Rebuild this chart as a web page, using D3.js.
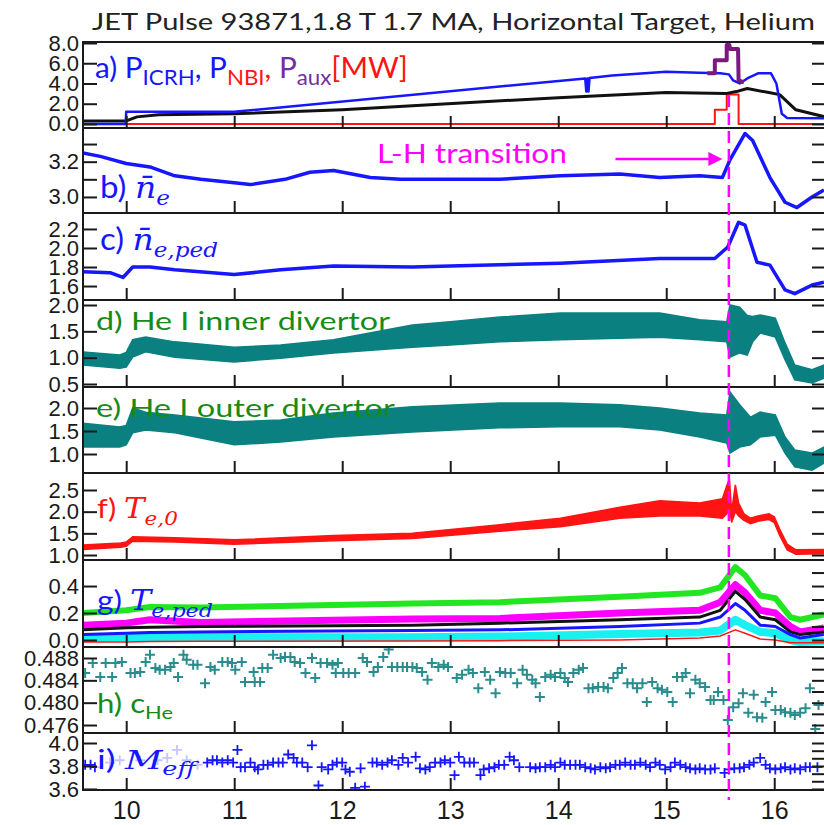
<!DOCTYPE html>
<html>
<head>
<meta charset="utf-8">
<script src="https://cdn.jsdelivr.net/npm/d3@7"></script>
<style>
  body { margin: 0; background: #fff; }
  text { white-space: pre; }
</style>
</head>
<body>
<div id="chart"></div>
<script>
// ---------- data ----------
const xTicks = [10, 11, 12, 13, 14, 15, 16]
const tLH = 15.58

// a) heating powers [MW]
const tIcrh = [9.6, 9.995, 10.0, 11.0, 14.25, 14.26, 14.27, 14.28, 14.29, 14.5, 14.8, 15.0, 15.3, 15.5, 15.58, 15.62, 15.68, 15.75, 15.85, 15.97, 16.02, 16.07, 16.12, 16.47]
const pIcrh = [0, 0, 1.2, 1.2, 4.5, 3.2, 4.5, 3.2, 4.55, 4.8, 5.0, 5.15, 5.05, 5.0, 4.9, 4.3, 4.0, 4.5, 5.0, 5.0, 4.0, 1.0, 0.6, 0.55]
const tBlack = [9.6, 10.0, 10.1, 10.3, 11.0, 12.0, 12.65, 14.0, 15.0, 15.55, 15.65, 15.75, 15.95, 16.05, 16.2, 16.47]
const pBlack = [0.3, 0.3, 0.7, 0.9, 1.0, 1.4, 1.8, 2.6, 3.1, 3.0, 3.2, 3.5, 3.1, 2.9, 1.4, 0.7]
const tNbi = [9.6, 15.45, 15.45, 15.56, 15.56, 15.67, 15.67, 16.47]
const pNbi = [0, 0, 1.4, 1.4, 2.9, 2.9, 0, 0]
const tAux = [15.38, 15.45, 15.45, 15.56, 15.56, 15.585, 15.59, 15.665, 15.67, 15.72]
const pAux = [5.0, 5.0, 6.3, 6.3, 7.8, 7.8, 7.4, 7.4, 4.3, 4.1]
const ticksA = [0, 2, 4, 6, 8]

// b) line averaged density
const tNe = [9.60, 9.76, 10.0, 10.22, 10.45, 10.69, 11.0, 11.15, 11.47, 11.70, 11.92, 12.26, 12.54, 13.46, 14.02, 14.57, 14.94, 15.31, 15.52, 15.59, 15.73, 15.80, 15.96, 16.10, 16.21, 16.35, 16.46]
const ne = [3.25, 3.23, 3.19, 3.17, 3.12, 3.10, 3.08, 3.07, 3.10, 3.14, 3.15, 3.11, 3.10, 3.10, 3.12, 3.13, 3.11, 3.12, 3.11, 3.21, 3.36, 3.32, 3.11, 2.97, 2.94, 3.00, 3.04]
const ticksB = [3.0, 3.1, 3.2, 3.3]
const labelsB = [3.0, 3.2]

// c) pedestal density
const tNped = [9.60, 9.85, 9.97, 10.06, 10.22, 10.45, 11.0, 11.43, 11.92, 12.65, 13.0, 14.02, 14.94, 15.45, 15.57, 15.67, 15.73, 15.84, 15.96, 16.10, 16.19, 16.35, 16.46]
const nPed = [1.75, 1.74, 1.69, 1.80, 1.80, 1.77, 1.72, 1.77, 1.81, 1.80, 1.81, 1.84, 1.89, 1.89, 2.01, 2.27, 2.24, 1.85, 1.82, 1.56, 1.52, 1.61, 1.64]
const ticksC = [1.6, 1.8, 2.0, 2.2]

// d) He I inner divertor (noise envelope)
const tHeIn = [9.60, 9.94, 10.00, 10.06, 10.18, 10.45, 11.00, 11.43, 11.92, 12.65, 13.00, 13.46, 14.02, 14.57, 14.94, 15.31, 15.56, 15.59, 15.68, 15.75, 15.80, 15.87, 16.01, 16.10, 16.19, 16.35, 16.46]
const heInLo = [0.86, 0.80, 0.82, 1.01, 1.11, 1.01, 0.92, 0.99, 1.09, 1.20, 1.24, 1.30, 1.34, 1.37, 1.39, 1.34, 1.30, 1.01, 1.09, 1.05, 1.30, 1.47, 1.39, 0.96, 0.58, 0.52, 0.61]
const heInHi = [1.11, 1.05, 1.10, 1.34, 1.39, 1.30, 1.20, 1.24, 1.34, 1.62, 1.68, 1.77, 1.85, 1.85, 1.85, 1.72, 1.68, 2.00, 1.96, 1.80, 1.78, 1.81, 1.75, 1.28, 0.86, 0.77, 0.86]
const ticksD = [0.5, 1.0, 1.5, 2.0]

// e) He I outer divertor (noise envelope)
const tHeOut = [9.60, 9.94, 10.00, 10.06, 10.18, 10.45, 11.00, 11.43, 11.92, 12.65, 13.46, 14.02, 14.57, 14.94, 15.31, 15.56, 15.59, 15.68, 15.78, 15.87, 16.01, 16.10, 16.19, 16.35, 16.46]
const heOutLo = [1.15, 1.15, 1.20, 1.46, 1.52, 1.46, 1.20, 1.26, 1.37, 1.48, 1.57, 1.59, 1.59, 1.52, 1.37, 1.24, 1.02, 1.15, 1.20, 1.37, 1.41, 1.02, 0.72, 0.65, 0.80]
const heOutHi = [1.67, 1.59, 1.62, 2.00, 1.91, 1.85, 1.70, 1.74, 1.89, 2.03, 2.11, 2.11, 2.07, 2.00, 1.89, 1.85, 2.35, 2.07, 1.80, 1.91, 1.85, 1.37, 1.09, 1.02, 1.15]
const ticksE = [1.0, 1.5, 2.0]

// f) central Te (noise envelope)
const tTe0 = [9.60, 9.95, 10.0, 10.06, 10.45, 11.0, 11.92, 12.65, 13.46, 14.02, 14.57, 14.94, 15.31, 15.52, 15.56, 15.585, 15.605, 15.64, 15.67, 15.72, 15.78, 15.85, 15.95, 16.0, 16.05, 16.12, 16.2, 16.47]
const te0Lo = [1.13, 1.18, 1.20, 1.32, 1.30, 1.25, 1.33, 1.38, 1.55, 1.65, 1.85, 1.90, 1.90, 1.85, 1.95, 2.10, 1.75, 2.00, 1.90, 1.80, 1.72, 1.78, 1.82, 1.75, 1.45, 1.12, 1.02, 1.03]
const te0Hi = [1.23, 1.28, 1.30, 1.42, 1.40, 1.35, 1.45, 1.50, 1.70, 1.85, 2.10, 2.25, 2.20, 2.30, 2.60, 2.75, 2.00, 2.62, 2.20, 1.95, 1.85, 1.90, 1.95, 1.88, 1.60, 1.25, 1.12, 1.13]
const ticksF = [1.0, 1.5, 2.0, 2.5]

// g) pedestal Te, several channels
const tTped = [9.60, 10.0, 10.22, 10.69, 12.65, 13.46, 14.57, 15.31, 15.50, 15.64, 15.73, 15.87, 16.01, 16.15, 16.24, 16.46]
const tpGreen = [0.20, 0.22, 0.245, 0.24, 0.27, 0.28, 0.32, 0.35, 0.39, 0.54, 0.48, 0.33, 0.31, 0.17, 0.15, 0.19]
const tpMagenta = [0.11, 0.125, 0.15, 0.13, 0.155, 0.16, 0.20, 0.22, 0.28, 0.41, 0.35, 0.22, 0.20, 0.10, 0.06, 0.09]
const tpBlack = [0.075, 0.09, 0.095, 0.10, 0.11, 0.125, 0.15, 0.17, 0.22, 0.36, 0.30, 0.17, 0.15, 0.06, 0.04, 0.06]
const tpBlue = [0.04, 0.05, 0.055, 0.06, 0.07, 0.075, 0.10, 0.125, 0.17, 0.27, 0.22, 0.11, 0.10, 0.04, 0.015, 0.04]
const tpCyan = [0.015, 0.02, 0.02, 0.02, 0.02, 0.025, 0.045, 0.055, 0.07, 0.15, 0.11, 0.06, 0.05, 0.0, -0.015, -0.01]
const tpRed = [-0.015, -0.015, -0.012, -0.01, -0.007, -0.005, 0.0, 0.015, 0.03, 0.075, 0.05, 0.007, 0.0, -0.02, -0.02, -0.02]
const ticksG = [0.0, 0.2, 0.4]
const ticksGRight = [0.0, 0.1, 0.2, 0.3, 0.4, 0.5]

// h) helium concentration
const tHe = [9.62, 9.69, 9.76, 9.81, 9.87, 9.90, 9.96, 10.04, 10.08, 10.13,
  10.18, 10.22, 10.27, 10.31, 10.36, 10.41, 10.44, 10.48, 10.53, 10.56,
  10.62, 10.66, 10.73, 10.78, 10.82, 10.89, 10.94, 10.98, 11.01, 11.07,
  11.10, 11.18, 11.19, 11.24, 11.26, 11.31, 11.36, 11.43, 11.47, 11.52,
  11.56, 11.61, 11.66, 11.72, 11.75, 11.80, 11.86, 11.91, 11.94, 11.96,
  12.01, 12.06, 12.12, 12.19, 12.23, 12.29, 12.33, 12.38, 12.43, 12.46,
  12.51, 12.56, 12.60, 12.65, 12.69, 12.74, 12.79, 12.83, 12.89, 12.94,
  12.98, 13.06, 13.11, 13.17, 13.21, 13.26, 13.32, 13.37, 13.42, 13.46,
  13.51, 13.56, 13.62, 13.67, 13.71, 13.76, 13.79, 13.83, 13.88, 13.93,
  13.97, 14.02, 14.06, 14.09, 14.14, 14.19, 14.23, 14.28, 14.32, 14.37,
  14.42, 14.46, 14.51, 14.55, 14.59, 14.64, 14.69, 14.73, 14.78, 14.82,
  14.87, 14.92, 14.96, 15.01, 15.06, 15.10, 15.15, 15.18, 15.22, 15.27,
  15.31, 15.36, 15.41, 15.44, 15.48, 15.53, 15.57, 15.62, 15.67, 15.71,
  15.76, 15.81, 15.84, 15.89, 15.92, 15.98, 16.01, 16.06, 16.10, 16.15,
  16.19, 16.24, 16.29, 16.33, 16.38, 16.41]
const cHe = [0.4853, 0.4871, 0.4846, 0.4871, 0.4846, 0.4871, 0.4873, 0.4853, 0.4853, 0.4855,
  0.4873, 0.4886, 0.4862, 0.4859, 0.4859, 0.4864, 0.4871, 0.4846, 0.4886, 0.4877,
  0.4868, 0.4868, 0.4835, 0.4864, 0.4859, 0.4873, 0.4873, 0.4871, 0.4859, 0.4873,
  0.4837, 0.4855, 0.4837, 0.4837, 0.4862, 0.4862, 0.4886, 0.4880, 0.4882, 0.4882,
  0.4873, 0.4871, 0.4853, 0.4880, 0.4844, 0.4871, 0.4871, 0.4868, 0.4853, 0.4871,
  0.4853, 0.4853, 0.4853, 0.4880, 0.4873, 0.4855, 0.4864, 0.4882, 0.4895, 0.4864,
  0.4864, 0.4864, 0.4864, 0.4864, 0.4862, 0.4855, 0.4841, 0.4871, 0.4864, 0.4868,
  0.4864, 0.4844, 0.4850, 0.4859, 0.4853, 0.4826, 0.4855, 0.4841, 0.4817, 0.4855,
  0.4853, 0.4853, 0.4835, 0.4859, 0.4850, 0.4841, 0.4835, 0.4810, 0.4846, 0.4850,
  0.4846, 0.4853, 0.4844, 0.4837, 0.4853, 0.4859, 0.4862, 0.4826, 0.4826, 0.4828,
  0.4828, 0.4826, 0.4844, 0.4853, 0.4862, 0.4835, 0.4835, 0.4826, 0.4835, 0.4801,
  0.4837, 0.4826, 0.4823, 0.4819, 0.4801, 0.4846, 0.4846, 0.4853, 0.4817, 0.4841,
  0.4835, 0.4828, 0.4805, 0.4805, 0.4819, 0.4805, 0.4769, 0.4792, 0.4799, 0.4817,
  0.4782, 0.4814, 0.4774, 0.4773, 0.4801, 0.4819, 0.4787, 0.4787, 0.4783, 0.4782,
  0.4778, 0.4782, 0.4790, 0.4826, 0.4753, 0.4796]
const ticksH = [0.476, 0.480, 0.484, 0.488]
const ticksHRight = [0.476, 0.478, 0.480, 0.482, 0.484, 0.486, 0.488]

// i) effective mass
const tMeff = [9.62, 9.67, 9.71, 9.85, 9.94, 10.13, 10.29, 10.38, 10.47, 10.56,
  10.66, 10.75, 10.80, 10.84, 10.89, 10.94, 10.99, 11.03, 11.06, 11.10,
  11.15, 11.19, 11.22, 11.27, 11.31, 11.36, 11.41, 11.45, 11.50, 11.55,
  11.58, 11.63, 11.68, 11.72, 11.78, 11.81, 11.87, 11.91, 11.95, 12.00,
  12.03, 12.07, 12.12, 12.17, 12.21, 12.28, 12.32, 12.37, 12.42, 12.46,
  12.52, 12.56, 12.61, 12.68, 12.72, 12.77, 12.81, 12.86, 12.91, 12.95,
  13.00, 13.04, 13.08, 13.13, 13.18, 13.22, 13.28, 13.31, 13.36, 13.41,
  13.45, 13.50, 13.55, 13.59, 13.64, 13.74, 13.79, 13.83, 13.88, 13.93,
  13.97, 14.02, 14.06, 14.11, 14.16, 14.20, 14.25, 14.30, 14.34, 14.39,
  14.44, 14.48, 14.53, 14.57, 14.62, 14.67, 14.71, 14.76, 14.81, 14.85,
  14.90, 14.94, 14.99, 15.04, 15.08, 15.13, 15.18, 15.22, 15.27, 15.31,
  15.36, 15.41, 15.45, 15.54, 15.58, 15.63, 15.68, 15.72, 15.77, 15.81,
  15.87, 15.92, 15.96, 16.01, 16.06, 16.10, 16.15, 16.19, 16.24, 16.29,
  16.33, 16.40]
const mEff = [3.81, 3.81, 3.79, 3.83, 3.85, 3.85, 3.85, 3.87, 3.94, 3.85,
  3.81, 3.83, 3.85, 3.85, 3.83, 3.85, 3.83, 3.94, 3.79, 3.79,
  3.83, 3.79, 3.77, 3.81, 3.81, 3.83, 3.83, 3.83, 3.90, 3.87,
  3.83, 3.83, 3.79, 3.98, 3.63, 3.79, 3.77, 3.81, 3.83, 3.83,
  3.77, 3.75, 3.61, 3.78, 3.62, 3.83, 3.83, 3.81, 3.83, 3.85,
  3.81, 3.87, 3.83, 3.88, 3.78, 3.77, 3.79, 3.83, 3.83, 3.85,
  3.83, 3.72, 3.88, 3.83, 3.83, 3.83, 3.72, 3.77, 3.78, 3.79,
  3.81, 3.81, 3.88, 3.85, 3.79, 3.79, 3.78, 3.79, 3.79, 3.81,
  3.79, 3.83, 3.81, 3.81, 3.81, 3.81, 3.79, 3.78, 3.77, 3.79,
  3.78, 3.79, 3.81, 3.81, 3.83, 3.81, 3.81, 3.83, 3.81, 3.79,
  3.83, 3.81, 3.77, 3.79, 3.83, 3.81, 3.79, 3.78, 3.77, 3.78,
  3.77, 3.77, 3.78, 3.74, 3.77, 3.78, 3.78, 3.79, 3.81, 3.83,
  3.87, 3.81, 3.78, 3.77, 3.78, 3.79, 3.77, 3.78, 3.77, 3.79,
  3.79, 3.79]
const ticksI = [3.6, 3.8, 4.0]
const ticksIRight = [3.6, 3.667, 3.733, 3.8, 3.867, 3.933, 4.0]

// ---------- layout ----------
const W = 824, H = 825
const LEFT = 83, RIGHT = 825
const AXIS = '#1a1a1a'
const BLUE = '#1616ff', RED = '#ff1414', TEAL = '#0b8080', GREEN = '#178a17', MAGENTA = '#ff00ff'

const svg = d3.select('#chart').append('svg')
  .attr('width', W).attr('height', H)
  .style('background', '#fff')
  .attr('font-family', 'Lato, sans-serif')

const x = d3.scaleLinear().domain([9.6, 16.47]).range([LEFT, RIGHT])

const panels = [
  { id: 'a', top: 42, bottom: 128, domain: [-0.4, 8.1], ticks: ticksA, labels: ticksA, right: ticksA, fmt: '.1f' },
  { id: 'b', top: 128, bottom: 213, domain: [2.909, 3.391], ticks: ticksB, labels: labelsB, right: ticksB, fmt: '.1f' },
  { id: 'c', top: 213, bottom: 300, domain: [1.453, 2.368], ticks: ticksC, labels: ticksC, right: ticksC, fmt: '.1f' },
  { id: 'd', top: 300, bottom: 387, domain: [0.443, 2.095], ticks: ticksD, labels: ticksD, right: ticksD, fmt: '.1f' },
  { id: 'e', top: 387, bottom: 473, domain: [0.587, 2.457], ticks: ticksE, labels: ticksE, right: ticksE, fmt: '.1f' },
  { id: 'f', top: 473, bottom: 560, domain: [0.885, 2.892], ticks: ticksF, labels: ticksF, right: ticksF, fmt: '.1f' },
  { id: 'g', top: 560, bottom: 647, domain: [-0.052, 0.593], ticks: ticksG, labels: ticksG, right: ticksGRight, fmt: '.1f' },
  { id: 'h', top: 647, bottom: 733, domain: [0.47457, 0.48997], ticks: ticksH, labels: ticksH, right: ticksHRight, fmt: '.3f' },
  { id: 'i', top: 733, bottom: 790, domain: [3.591, 4.087], ticks: ticksI, labels: ticksI, right: ticksIRight, fmt: '.1f' }
]
const P = {}
panels.forEach(p => {
  p.y = d3.scaleLinear().domain(p.domain).range([p.bottom, p.top])
  svg.append('clipPath').attr('id', 'clip-' + p.id).append('rect')
    .attr('x', LEFT).attr('y', p.top).attr('width', RIGHT - LEFT).attr('height', p.bottom - p.top)
  p.plot = svg.append('g').attr('clip-path', `url(#clip-${p.id})`)
  P[p.id] = p
})

const zip = (ts, vs) => ts.map((t, i) => [t, vs[i]])
const zip3 = (ts, lo, hi) => ts.map((t, i) => ({ t, lo: lo[i], hi: hi[i] }))

function drawLine(p, ts, vs, color, width) {
  const line = d3.line().x(d => x(d[0])).y(d => p.y(d[1]))
  p.plot.append('path').datum(zip(ts, vs))
    .attr('d', line).attr('fill', 'none')
    .attr('stroke', color).attr('stroke-width', width)
    .attr('stroke-linejoin', 'round')
}
function drawBand(p, ts, lo, hi, color) {
  const area = d3.area().x(d => x(d.t)).y0(d => p.y(d.lo)).y1(d => p.y(d.hi))
  p.plot.append('path').datum(zip3(ts, lo, hi))
    .attr('d', area).attr('fill', color)
    .attr('stroke', color).attr('stroke-width', 1.5)
}
function drawCrosses(p, ts, vs, color, size, width) {
  p.plot.selectAll(null).data(zip(ts, vs)).enter().append('path')
    .attr('transform', d => `translate(${x(d[0])},${p.y(d[1])})`)
    .attr('d', `M${-size},0H${size}M0,${-size}V${size}`)
    .attr('stroke', color).attr('stroke-width', width).attr('fill', 'none')
}

// a)
drawLine(P.a, tNbi, pNbi, RED, 2)
drawLine(P.a, tBlack, pBlack, '#111', 3)
drawLine(P.a, tIcrh, pIcrh, BLUE, 2.5)
drawLine(P.a, tAux, pAux, '#7a1a80', 4)
// b), c)
drawLine(P.b, tNe, ne, BLUE, 3.5)
drawLine(P.c, tNped, nPed, BLUE, 3.5)
// d), e)
drawBand(P.d, tHeIn, heInLo, heInHi, TEAL)
drawBand(P.e, tHeOut, heOutLo, heOutHi, TEAL)
// f)
drawBand(P.f, tTe0, te0Lo, te0Hi, RED)
// g)
drawLine(P.g, tTped, tpGreen, '#22e622', 6)
drawLine(P.g, tTped, tpMagenta, MAGENTA, 7)
drawLine(P.g, tTped, tpCyan, '#19f0f0', 8)
drawLine(P.g, tTped, tpBlack, '#111', 3)
drawLine(P.g, tTped, tpBlue, BLUE, 3)
drawLine(P.g, tTped, tpRed, RED, 1.5)
// h), i)
drawCrosses(P.h, tHe, cHe, '#2a8c8c', 5, 2)
drawCrosses(P.i, tMeff, mEff, BLUE, 5, 1.8)

// ---------- axes ----------
panels.forEach((p, k) => {
  const g = svg.append('g').attr('font-family', 'DejaVu Sans').style('color', AXIS)
  const fmt = d3.format(p.fmt)
  g.append('g').attr('transform', `translate(${LEFT},0)`)
    .call(d3.axisLeft(p.y).tickValues(p.ticks).tickSizeInner(-14).tickSizeOuter(0).tickPadding(4)
      .tickFormat(v => p.labels.includes(v) ? fmt(v) : ''))
    .attr('font-size', 22)
  g.append('g').attr('transform', `translate(${RIGHT},0)`)
    .call(d3.axisRight(p.y).tickValues(p.right).tickSizeInner(-13).tickSizeOuter(0).tickFormat(''))
  const last = k === panels.length - 1
  g.append('g').attr('transform', `translate(0,${p.bottom})`)
    .call(d3.axisBottom(x).tickValues(xTicks).tickSizeInner(-12).tickSizeOuter(0).tickPadding(11)
      .tickFormat(last ? d3.format('d') : ''))
    .attr('font-size', 25).attr('font-family', 'Liberation Sans')
  g.append('rect').attr('x', LEFT).attr('y', p.top)
    .attr('width', RIGHT - LEFT).attr('height', p.bottom - p.top)
    .attr('fill', 'none').attr('stroke', AXIS).attr('stroke-width', 2)
})
svg.selectAll('.domain').remove()
svg.selectAll('.tick line').attr('stroke-width', 2)

// ---------- L-H marker ----------
svg.append('line')
  .attr('x1', x(tLH)).attr('x2', x(tLH)).attr('y1', 95).attr('y2', 800)
  .attr('stroke', MAGENTA).attr('stroke-width', 2.5).attr('stroke-dasharray', '12,6')
const ax0 = x(14.53), ax1 = x(15.52), ay = 159
svg.append('line').attr('x1', ax0).attr('x2', ax1 - 10).attr('y1', ay).attr('y2', ay)
  .attr('stroke', MAGENTA).attr('stroke-width', 2.5)
svg.append('path').attr('d', `M${ax1},${ay}L${ax1 - 14},${ay - 7}L${ax1 - 14},${ay + 7}Z`).attr('fill', MAGENTA)

// ---------- text ----------
function label(parts, x0, y0, size, width, opts = {}) {
  const shift = opts.shift || size * 0.25, sub = opts.sub || 0.7
  const t = svg.append('text').attr('x', x0).attr('y', y0).attr('font-size', size)
  let down = false
  parts.forEach(q => {
    const s = t.append('tspan').text(q.t).attr('fill', q.c)
    if (q.math) s.attr('font-family', 'DejaVu Serif').attr('font-style', 'italic')
    if (q.sub) s.attr('font-size', size * sub)
    if (q.sub && !down) { s.attr('dy', shift); down = true }
    else if (!q.sub && down) { s.attr('dy', -shift); down = false }
  })
  const w = t.node().getBBox().width
  t.attr('transform', `translate(${x0},0) scale(${width / w},1) translate(${-x0},0)`)
  return t
}

label([{ t: 'JET Pulse 93871,1.8 T 1.7 MA, Horizontal Target, Helium', c: '#222' }], 92, 30, 24, 723)
label([
  { t: 'a) P', c: BLUE }, { t: 'ICRH', c: BLUE, sub: true }, { t: ', P', c: BLUE },
  { t: 'NBI', c: RED, sub: true }, { t: ', ', c: RED }, { t: 'P', c: '#7030a0' },
  { t: 'aux', c: '#7030a0', sub: true }, { t: '[MW]', c: RED }
], 95, 78, 28, 313, { shift: 7, sub: 0.75 })
label([{ t: 'L-H transition', c: MAGENTA }], 377, 163, 27, 190)
label([{ t: 'b) ', c: BLUE }, { t: 'n\u0304', c: BLUE, math: true }, { t: 'e', c: BLUE, math: true, sub: true }], 100, 198, 30, 70)
label([{ t: 'c) ', c: BLUE }, { t: 'n\u0304', c: BLUE, math: true }, { t: 'e,ped', c: BLUE, math: true, sub: true }], 100, 250, 30, 118)
label([{ t: 'd) He I inner divertor', c: GREEN }], 96, 330, 25, 294)
label([{ t: 'e) He I outer divertor', c: GREEN }], 96, 417, 25, 299)
label([{ t: 'f) ', c: RED }, { t: 'T', c: RED, math: true }, { t: 'e,0', c: RED, math: true, sub: true }], 97, 518, 27, 81)
label([{ t: 'g) ', c: BLUE }, { t: 'T', c: BLUE, math: true }, { t: 'e,ped', c: BLUE, math: true, sub: true }], 97, 610, 27, 116)
label([{ t: 'h) c', c: GREEN }, { t: 'He', c: GREEN, sub: true }], 97, 713, 26, 76)
svg.append('rect').attr('x', 97).attr('y', 745).attr('width', 106).attr('height', 31)
  .attr('fill', '#fff').attr('opacity', 0.75)
label([{ t: 'i) ', c: BLUE }, { t: 'M', c: BLUE, math: true }, { t: 'eff', c: BLUE, math: true, sub: true }], 97, 769, 26, 103)
</script>
</body>
</html>
